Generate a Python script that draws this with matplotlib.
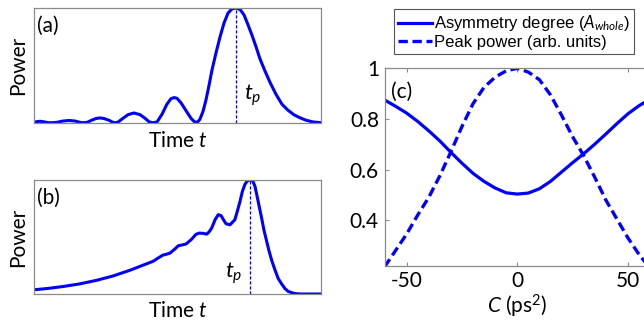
#!/usr/bin/env python
# encoding: utf-8

'''
Pulse shapes (a), (b) and the asymmetry / peak power
versus chirp C (c).
'''

import matplotlib
matplotlib.use('Agg')
import matplotlib.pyplot as plt

# (a) Airy-like pulse, time in arbitrary units, power normalised
t_a = [0.00, 0.10, 0.21, 0.35, 0.49, 0.63, 0.80, 1.01, 1.22, 1.43, 1.60, 1.71,
       1.85, 2.02, 2.16, 2.30, 2.44, 2.61, 2.75, 2.82, 2.93, 3.10, 3.28, 3.48,
       3.69, 3.87, 4.01, 4.15, 4.29, 4.46, 4.63, 4.77, 4.88, 4.98, 5.12, 5.30,
       5.47, 5.57, 5.68, 5.78, 5.89, 5.99, 6.10, 6.20, 6.34, 6.48, 6.62, 6.76,
       6.90, 7.04, 7.18, 7.32, 7.46, 7.60, 7.74, 7.87, 8.05, 8.22, 8.43, 8.64,
       8.85, 9.06, 9.27, 9.48, 9.72, 10.0]
power_a = [0.006, 0.012, 0.015, 0.010, 0.003, 0.002, 0.006, 0.017, 0.022, 0.017,
           0.006, 0.002, 0.006, 0.025, 0.039, 0.044, 0.039, 0.024, 0.006, 0.002,
           0.008, 0.041, 0.073, 0.087, 0.073, 0.041, 0.010, 0.002, 0.010, 0.076,
           0.163, 0.211, 0.221, 0.215, 0.176, 0.106, 0.041, 0.015, 0.003, 0.032,
           0.102, 0.198, 0.329, 0.459, 0.608, 0.747, 0.869, 0.956, 0.993, 1.000,
           0.987, 0.939, 0.852, 0.760, 0.660, 0.560, 0.451, 0.355, 0.250, 0.163,
           0.111, 0.071, 0.045, 0.024, 0.009, 0.003]
tp_a = 7.03

# (b) asymmetric pulse
t_b = [0.00, 0.49, 1.02, 1.60, 2.18, 2.75, 3.34, 3.80, 4.16, 4.32, 4.49, 4.63,
       4.74, 4.91, 5.03, 5.16, 5.30, 5.49, 5.64, 5.75, 5.89, 6.02, 6.10, 6.19,
       6.31, 6.42, 6.52, 6.60, 6.69, 6.83, 6.93, 7.00, 7.09, 7.18, 7.26, 7.35,
       7.42, 7.49, 7.56, 7.63, 7.70, 7.76, 7.84, 7.93, 8.01, 8.11, 8.19, 8.28,
       8.40, 8.51, 8.64, 8.75, 8.85, 8.98, 9.13, 9.27, 10.0]
power_b = [0.037, 0.049, 0.066, 0.089, 0.120, 0.158, 0.208, 0.253, 0.288, 0.315,
           0.341, 0.350, 0.359, 0.395, 0.424, 0.430, 0.439, 0.480, 0.523, 0.534,
           0.532, 0.525, 0.545, 0.578, 0.652, 0.696, 0.687, 0.652, 0.616, 0.607,
           0.634, 0.652, 0.731, 0.814, 0.900, 0.962, 0.988, 1.000, 1.000, 0.988,
           0.944, 0.873, 0.776, 0.667, 0.563, 0.459, 0.377, 0.297, 0.208, 0.135,
           0.084, 0.046, 0.024, 0.011, 0.003, 0.000, 0.000]
tp_b = 7.53

# (c) versus chirp C (ps^2)
chirp = [-60, -55, -50, -45, -40, -35, -30, -25, -20, -15, -10, -5, 0,
         5, 10, 15, 20, 25, 30, 35, 40, 45, 50, 55, 60]
asymmetry = [0.875, 0.850, 0.823, 0.790, 0.753, 0.713, 0.668, 0.625, 0.585,
             0.553, 0.527, 0.508, 0.503, 0.507, 0.524, 0.553, 0.590, 0.627,
             0.662, 0.700, 0.740, 0.781, 0.820, 0.852, 0.878]
peak_power = [0.215, 0.280, 0.345, 0.420, 0.490, 0.575, 0.670, 0.770, 0.860,
              0.925, 0.965, 0.990, 1.000, 0.985, 0.955, 0.895, 0.815, 0.730,
              0.655, 0.570, 0.480, 0.405, 0.330, 0.265, 0.210]
xticks_c = [-50, 0, 50]
xticklabels_c = ['-50', '0', '50']
yticks_c = [0.4, 0.6, 0.8, 1.0]
yticklabels_c = ['0.4', '0.6', '0.8', '1']

blue = '#0000ff'
grey = '#8a8a8a'


def pulse_panel(ax, t, p, tp, letter, tp_x, tp_y, tp_ha, xpad):
    ax.plot(t, p, color=blue, lw=2.2)
    ax.plot([tp, tp], [0, 1], color=blue, lw=0.9, ls=(0, (2.5, 1.5)))
    ax.set_xlim(0, 10)
    ax.set_ylim(0, 1)
    ax.set_xticks([])
    ax.set_yticks([])
    for s in ax.spines.values():
        s.set_color(grey)
        s.set_linewidth(0.9)
    ax.set_xlabel('Time $t$', fontsize=15, labelpad=xpad)
    ax.set_ylabel('Power', fontsize=15, labelpad=4)
    ax.text(0.012, 0.93, letter, transform=ax.transAxes, fontsize=15,
            ha='left', va='top')
    ax.text(tp_x, tp_y, '$t_p$', fontsize=16, ha=tp_ha, va='center')


def main():
    plt.rcParams['font.family'] = ['Lato', 'DejaVu Sans']
    plt.rcParams['mathtext.fontset'] = 'custom'
    plt.rcParams['mathtext.it'] = 'Lato:italic'
    plt.rcParams['mathtext.rm'] = 'Lato'

    W, H = 644., 323.
    fig = plt.figure(figsize=(W / 100, H / 100), dpi=100)

    ax_a = fig.add_axes([34 / W, 1 - 123 / H, 287 / W, 115 / H])
    ax_b = fig.add_axes([34 / W, 1 - 294 / H, 287 / W, 114 / H])
    ax_c = fig.add_axes([384.5 / W, 1 - 265.7 / H, 265.5 / W, 197.4 / H])

    pulse_panel(ax_a, t_a, power_a, tp_a, '(a)', 7.32, 0.24, 'left', 6)
    pulse_panel(ax_b, t_b, power_b, tp_b, '(b)', 7.28, 0.18, 'right', 5)

    l1, = ax_c.plot(chirp, asymmetry, color=blue, lw=2.3)
    l2, = ax_c.plot(chirp, peak_power, color=blue, lw=2.4, ls=(0, (2.8, 1.4)))
    ax_c.set_xlim(-60, 60)
    ax_c.set_ylim(0.22, 1.0)
    ax_c.set_xticks(xticks_c)
    ax_c.set_xticklabels(xticklabels_c)
    ax_c.set_yticks(yticks_c)
    ax_c.set_yticklabels(yticklabels_c)
    ax_c.tick_params(direction='in', length=3, width=0.8, color=grey,
                     labelsize=15, top=True, right=True, pad=4)
    for s in ax_c.spines.values():
        s.set_color(grey)
        s.set_linewidth(0.9)
    ax_c.set_xlabel('$C$ (ps$^2$)', fontsize=15, labelpad=1)
    ax_c.text(0.025, 0.93, '(c)', transform=ax_c.transAxes, fontsize=15,
              ha='left', va='top')

    leg = ax_c.legend([l1, l2],
                      ['Asymmetry degree ($A_{whole}$)',
                       'Peak power (arb. units)'],
                      loc='upper left', bbox_to_anchor=(394 / W, 1 - 9.3 / H),
                      bbox_transform=fig.transFigure, borderaxespad=0,
                      borderpad=0.25, handlelength=2.0, handletextpad=0.15,
                      labelspacing=0.1, fancybox=False, framealpha=1,
                      edgecolor='#555555',
                      prop={'family': 'Liberation Sans', 'size': 12})
    leg.get_frame().set_linewidth(0.8)

    fig.savefig('out.png', dpi=100)


if __name__ == '__main__':
    main()
